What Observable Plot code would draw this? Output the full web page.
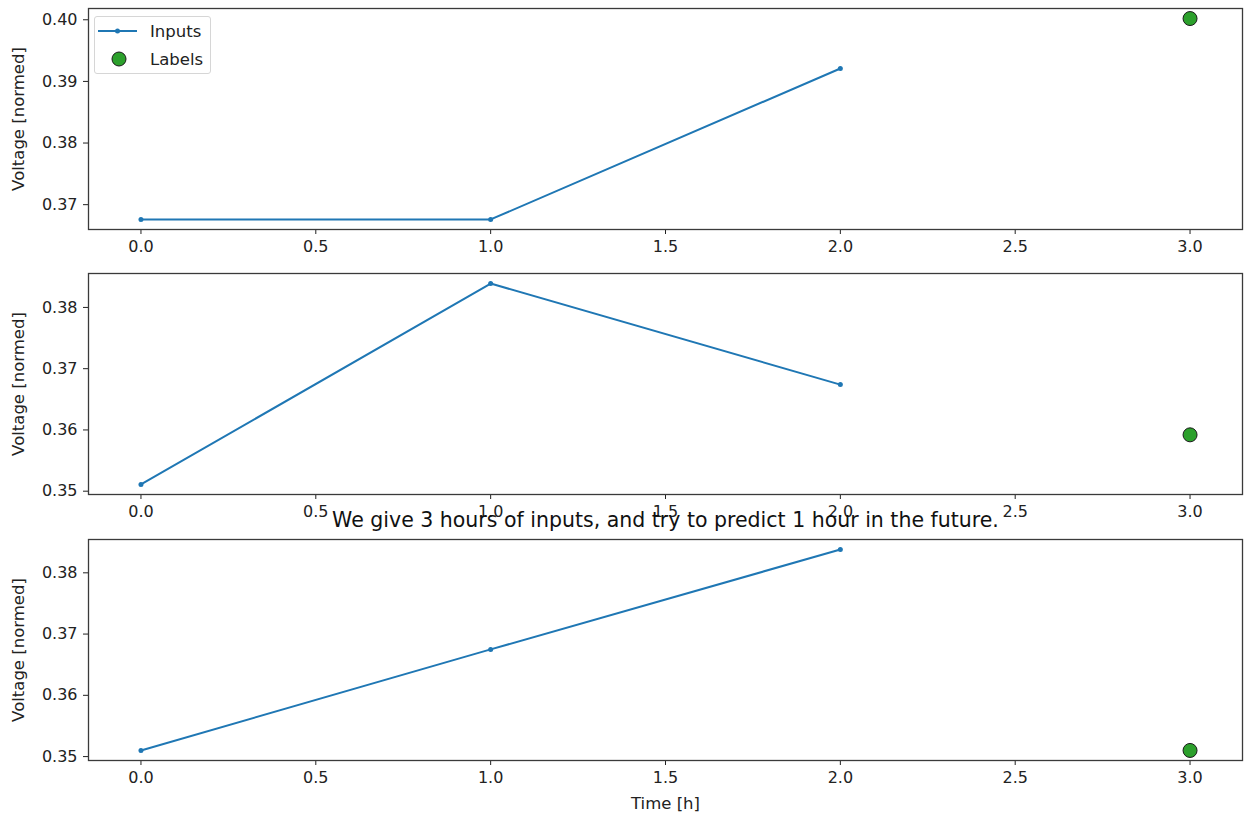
<!DOCTYPE html>
<html><head><meta charset="utf-8">
<script src="https://cdn.jsdelivr.net/npm/d3@7"></script>
<script src="https://cdn.jsdelivr.net/npm/@observablehq/plot@0.6"></script>
<style>
body{margin:0;background:#fff;font-family:"DejaVu Sans",sans-serif;}
#wrap{position:relative;width:1245px;height:818px;overflow:hidden;background:#fff;}
.panel{position:absolute;left:0;}
#legend{position:absolute;left:94px;top:16px;width:117px;height:58px;border:1px solid #d6d6d6;border-radius:3px;background:rgba(255,255,255,0.85);box-sizing:border-box;}
#legend text{font-family:"DejaVu Sans",sans-serif;font-size:16.5px;fill:#222;}
</style></head><body><div id="wrap"></div>
<script>
const hours = [0, 1, 2];
const labelHour = 3;
const inputs1 = [0.3676, 0.3676, 0.3921];
const label1 = 0.4002;
const inputs2 = [0.3511, 0.3839, 0.3674];
const label2 = 0.3592;
const inputs3 = [0.3510, 0.3675, 0.3838];
const label3 = 0.3510;
const xTicks = [0, 0.5, 1, 1.5, 2, 2.5, 3];
const yTicksTop = [0.37, 0.38, 0.39, 0.40];
const yTicksLower = [0.35, 0.36, 0.37, 0.38];
const seriesNames = ["Inputs", "Labels"];
const yLabel = "Voltage [normed]";
const xLabel = "Time [h]";
const title = "We give 3 hours of inputs, and try to predict 1 hour in the future.";

const wrap = document.getElementById("wrap");

function panel({inputs, label, yTicks, top, height, marginTop, marginBottom, extra = []}) {
  const data = hours.map((h, i) => ({h, v: inputs[i]}));
  const all = [...inputs, label];
  const lo = d3.min(all), hi = d3.max(all), pad = (hi - lo) * 0.05;
  const xlo = d3.min(hours), xhi = labelHour, xpad = (xhi - xlo) * 0.05;
  const chart = Plot.plot({
    width: 1245, height, marginLeft: 88, marginRight: 3, marginTop, marginBottom,
    style: {background: "none", overflow: "visible", fontFamily: "DejaVu Sans", fontSize: "16px", color: "#222"},
    x: {domain: [xlo - xpad, xhi + xpad], ticks: xTicks, tickFormat: d3.format(".1f"), tickSize: 5, tickPadding: 6, label: null},
    y: {domain: [lo - pad, hi + pad], ticks: yTicks, tickFormat: d3.format(".2f"), tickSize: 5, tickPadding: 6, label: null},
    marks: [
      Plot.line(data, {x: "h", y: "v", stroke: "#1f77b4", strokeWidth: 2}),
      Plot.dot(data, {x: "h", y: "v", fill: "#1f77b4", r: 2.5}),
      Plot.dot([{h: labelHour, v: label}], {x: "h", y: "v", fill: "#2ca02c", stroke: "#1a1a1a", strokeWidth: 1, r: 7}),
      Plot.frame({stroke: "#3a3a3a", strokeWidth: 1.3}),
      Plot.text([yLabel], {text: d => d, frameAnchor: "left", textAnchor: "middle", lineAnchor: "middle", rotate: -90, dx: -70, fontSize: 16.5, fill: "#222"}),
      ...extra
    ]
  });
  chart.classList.add("panel");
  chart.style.top = top + "px";
  wrap.appendChild(chart);
}

panel({inputs: inputs1, label: label1, yTicks: yTicksTop, top: 0, height: 265, marginTop: 8, marginBottom: 36});
panel({inputs: inputs2, label: label2, yTicks: yTicksLower, top: 265, height: 265, marginTop: 8, marginBottom: 36});
panel({inputs: inputs3, label: label3, yTicks: yTicksLower, top: 500, height: 318, marginTop: 39, marginBottom: 58,
  extra: [
    Plot.text([title], {text: d => d, frameAnchor: "top", lineAnchor: "middle", dy: -19, fontSize: 20.5, fill: "#111"}),
    Plot.text([xLabel], {text: d => d, frameAnchor: "bottom", lineAnchor: "middle", dy: 43, fontSize: 16.5, fill: "#222"})
  ]});

// legend
const ns = "http://www.w3.org/2000/svg";
const leg = document.createElement("div");
leg.id = "legend";
const lsvg = document.createElementNS(ns, "svg");
lsvg.setAttribute("width", 115); lsvg.setAttribute("height", 56);
function el(tag, attrs) { const e = document.createElementNS(ns, tag); for (const k in attrs) e.setAttribute(k, attrs[k]); lsvg.appendChild(e); return e; }
el("line", {x1: 3, x2: 42, y1: 14, y2: 14, stroke: "#1f77b4", "stroke-width": 2});
el("circle", {cx: 22.5, cy: 14, r: 2.5, fill: "#1f77b4"});
el("circle", {cx: 24, cy: 42, r: 7, fill: "#2ca02c", stroke: "#1a1a1a", "stroke-width": 1});
seriesNames.forEach((n, i) => { const t = el("text", {x: 55, y: 14 + i * 28, "dominant-baseline": "central"}); t.textContent = n; });
leg.appendChild(lsvg);
wrap.appendChild(leg);
</script></body></html>
